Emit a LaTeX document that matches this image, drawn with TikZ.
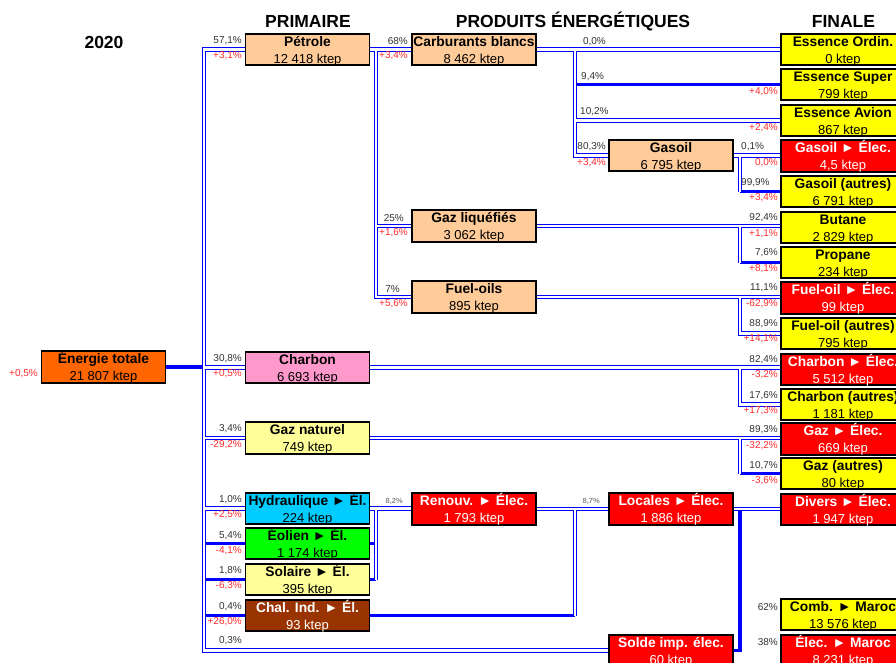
\documentclass[tikz,border=0pt]{standalone}
\usepackage{fontspec}
\setmainfont{Liberation Sans}
\usetikzlibrary{backgrounds}
\definecolor{corange}{HTML}{FF6600}
\definecolor{cpeach}{HTML}{FFCC99}
\definecolor{cpink}{HTML}{FF99CC}
\definecolor{clyel}{HTML}{FFFF99}
\definecolor{ccyan}{HTML}{00CCFF}
\definecolor{cgreen}{HTML}{00FF00}
\definecolor{cbrown}{HTML}{993300}
\definecolor{cred}{HTML}{FF0000}
\definecolor{cyel}{HTML}{FFFF00}
\definecolor{cblue}{HTML}{0000FF}
\definecolor{txtgray}{HTML}{333333}
\definecolor{txtred}{HTML}{FF2A2A}
\definecolor{txtlight}{HTML}{8A8A8A}
\newcommand{\bx}[2]{\rule{0pt}{12.5pt}\smash{\fontsize{13.8}{17}\selectfont\bfseries #1}\\\smash{\fontsize{13}{17}\selectfont #2}\rule[-2pt]{0pt}{2pt}}
\begin{document}
\begin{tikzpicture}[x=1pt,y=-1pt,
  box/.style={draw=black, line width=1.6pt, minimum width=124pt, minimum height=31.5pt,
    inner sep=0pt, align=center, font=\fontsize{13}{17}\selectfont},
  wbox/.style={box, text=white},
  pipe/.style={draw=cblue, line width=1pt, double=white, double distance=2.2pt},
  tpipe/.style={draw=cblue, line width=3.6pt},
  pg/.style={font=\fontsize{10}{10}\selectfont, text=txtgray, inner sep=0pt},
  pr/.style={pg, text=txtred},
  tiny/.style={font=\fontsize{7.5}{7.5}\selectfont\bfseries, text=txtlight, inner sep=0pt},
  head/.style={font=\fontsize{17.5}{17.5}\selectfont\bfseries, inner sep=0pt}]
\useasboundingbox (0,0) rectangle (896,662);
\clip (0,0) rectangle (896,662);

% headings
\node[head] (h0) at (104,42) {2020};
\node[head] (h1) at (308,21) {PRIMAIRE};
\node[head] (h2) at (573,21) {PRODUITS ÉNERGÉTIQUES};
\node[head] (h3) at (843.5,21) {FINALE};

% column 1
\node[box, fill=corange] (et) at (103.5,367) {\bx{Énergie totale}{21 807 ktep}};

% column 2
\node[box, fill=cpeach] (pet) at (307.5,49.5) {\bx{Pétrole}{12 418 ktep}};
\node[box, fill=cpink] (cha) at (307.5,367.5) {\bx{Charbon}{6 693 ktep}};
\node[box, fill=clyel] (gzn) at (307.5,438) {\bx{Gaz naturel}{749 ktep}};
\node[box, fill=ccyan] (hyd) at (307.5,508.5) {\bx{Hydraulique ► Él.}{224 ktep}};
\node[box, fill=cgreen] (eol) at (307.5,543.5) {\bx{Éolien ► Él.}{1 174 ktep}};
\node[box, fill=clyel] (sol) at (307.5,579.5) {\bx{Solaire ► Él.}{395 ktep}};
\node[wbox, fill=cbrown] (chi) at (307.5,615.5) {\bx{Chal. Ind. ► Él.}{93 ktep}};

% column 3
\node[box, fill=cpeach] (car) at (474,49.5) {\bx{Carburants blancs}{8 462 ktep}};
\node[box, fill=cpeach] (gl) at (474,226) {\bx{Gaz liquéfiés}{3 062 ktep}};
\node[box, fill=cpeach] (fo) at (474,297) {\bx{Fuel-oils}{895 ktep}};
\node[wbox, fill=cred] (ren) at (474,509) {\bx{Renouv. ► Élec.}{1 793 ktep}};

% column 3.5
\node[box, fill=cpeach] (gas) at (671,155.5) {\bx{Gasoil}{6 795 ktep}};
\node[wbox, fill=cred] (loc) at (671,509) {\bx{Locales ► Élec.}{1 886 ktep}};
\node[wbox, fill=cred] (sld) at (671,650.5) {\bx{Solde imp. élec.}{60 ktep}};

% column 4 (finale)
\node[box, fill=cyel] (eo) at (843,49.5) {\bx{Essence Ordin.}{0 ktep}};
\node[box, fill=cyel] (es) at (843,84.5) {\bx{Essence Super}{799 ktep}};
\node[box, fill=cyel] (ea) at (843,120.5) {\bx{Essence Avion}{867 ktep}};
\node[wbox, fill=cred] (ge) at (843,156) {\bx{Gasoil ► Élec.}{4,5 ktep}};
\node[box, fill=cyel] (ga) at (843,191.5) {\bx{Gasoil (autres)}{6 791 ktep}};
\node[box, fill=cyel] (but) at (843,227.5) {\bx{Butane}{2 829 ktep}};
\node[box, fill=cyel] (pro) at (843,262.5) {\bx{Propane}{234 ktep}};
\node[wbox, fill=cred] (fe) at (843,298) {\bx{Fuel-oil ► Élec.}{99 ktep}};
\node[box, fill=cyel] (fa) at (843,333.5) {\bx{Fuel-oil (autres)}{795 ktep}};
\node[wbox, fill=cred] (ce) at (843,369.5) {\bx{Charbon ► Élec.}{5 512 ktep}};
\node[box, fill=cyel] (cau) at (843,404.5) {\bx{Charbon (autres)}{1 181 ktep}};
\node[wbox, fill=cred] (gze) at (843,439) {\bx{Gaz ► Élec.}{669 ktep}};
\node[box, fill=cyel] (gza) at (843,473.5) {\bx{Gaz (autres)}{80 ktep}};
\node[wbox, fill=cred] (div) at (843,509.5) {\bx{Divers ► Élec.}{1 947 ktep}};
\node[box, fill=cyel] (cm) at (843,614.5) {\bx{Comb. ► Maroc}{13 576 ktep}};
\node[wbox, fill=cred] (em) at (843,650.5) {\bx{Élec. ► Maroc}{8 231 ktep}};

% trunk x positions
\coordinate (A) at (204,0);
\coordinate (B) at (376,0);
\coordinate (C) at (575,0);
\coordinate (D) at (740,0);

\begin{scope}[on background layer]
  % thick solid pipes
  \draw[tpipe] (et.east) -- (et.east -| A);
  \draw[tpipe] (eol.west) -- (eol.west -| A);
  \draw[tpipe] (sol.west) -- (sol.west -| A);
  \draw[tpipe] (chi.west) -- (chi.west -| A);
  \draw[tpipe] (es.west) -- (es.west -| C);
  \draw[tpipe] (ga.west) -- (ga.west -| D);
  \draw[tpipe] (pro.west) -- (pro.west -| D);
  \draw[tpipe] (gza.west) -- (gza.west -| D);
  \draw[tpipe] (eol.east) -- (eol.east -| B);
  \draw[tpipe] (sol.east) -- (sol.east -| B);
  \draw[tpipe] (chi.east) -- (chi.east -| C);
  \draw[tpipe] (loc.east -| D) -- (sld.east -| D) -- (sld.east);
  % double pipes
  \draw[pipe]
    (pet.west) -- (pet.west -| A) -- (sld.west -| A) -- (sld.west)
    (cha.west -| A) -- (cha.west)
    (gzn.west -| A) -- (gzn.west)
    (hyd.west -| A) -- (hyd.west)
    (pet.east) -- (car.west)
    (pet.east -| B) -- (fo.west -| B) -- (fo.west)
    (gl.west -| B) -- (gl.west)
    (car.east) -- (eo.west)
    (car.east -| C) -- (gas.west -| C) -- (gas.west)
    (ea.west -| C) -- (ea.west)
    (gas.east) -- (gas.east -| ge.west)
    (gas.east -| D) -- (ga.west -| D)
    (gl.east) -- (gl.east -| but.west)
    (gl.east -| D) -- (pro.west -| D)
    (fo.east) -- (fo.east -| fe.west)
    (fo.east -| D) -- (fa.west -| D) -- (fa.west)
    (cha.east) -- (cha.east -| ce.west)
    (cha.east -| D) -- (cau.west -| D) -- (cau.west)
    (gzn.east) -- (gzn.east -| gze.west)
    (gzn.east -| D) -- (gza.west -| D)
    (hyd.east) -- (hyd.east -| ren.west)
    (hyd.east -| B) -- (sol.east -| B)
    (ren.east) -- (ren.east -| loc.west)
    (ren.east -| C) -- (chi.east -| C)
    (loc.east) -- (loc.east -| div.west);
\end{scope}

% labels column 1/2
\node[pr, anchor=east] (l0) at (38,374) {+0,5\%};
\node[pg, anchor=east] (l1) at (242,41) {57,1\%};
\node[pr, anchor=east] (l2) at (242,56) {+3,1\%};
\node[pg, anchor=east] (l3) at (242,359) {30,8\%};
\node[pr, anchor=east] (l4) at (242,374) {+0,5\%};
\node[pg, anchor=east] (l5) at (242,429) {3,4\%};
\node[pr, anchor=east] (l6) at (242,445) {-29,2\%};
\node[pg, anchor=east] (l7) at (242,500) {1,0\%};
\node[pr, anchor=east] (l8) at (242,515) {+2,5\%};
\node[pg, anchor=east] (l9) at (242,536) {5,4\%};
\node[pr, anchor=east] (l10) at (242,551) {-4,1\%};
\node[pg, anchor=east] (l11) at (242,571) {1,8\%};
\node[pr, anchor=east] (l12) at (242,586) {-6,3\%};
\node[pg, anchor=east] (l13) at (242,607) {0,4\%};
\node[pr, anchor=east] (l14) at (242,622) {+26,0\%};
\node[pg, anchor=east] (l15) at (242,641) {0,3\%};

% labels column 3
\node[pg, anchor=east] (l16) at (408,41) {68\%};
\node[pr, anchor=east] (l17) at (408,56) {+3,4\%};
\node[pg, anchor=east] (l18) at (404,218) {25\%};
\node[pr, anchor=east] (l19) at (408,233) {+1,6\%};
\node[pg, anchor=east] (l20) at (400,289) {7\%};
\node[pr, anchor=east] (l21) at (408,304) {+5,6\%};
\node[tiny, anchor=east] (l22) at (403,501) {8,2\%};
\node[tiny, anchor=east] (l23) at (600,501) {8,7\%};

% labels column 3.5
\node[pg, anchor=east] (l24) at (606,42) {0,0\%};
\node[pg, anchor=west] (l25) at (581,77) {9,4\%};
\node[pg, anchor=west] (l26) at (580,112) {10,2\%};
\node[pg, anchor=east] (l27) at (606,147) {80,3\%};
\node[pr, anchor=east] (l28) at (606,163) {+3,4\%};

% labels finale
\node[pr, anchor=east] (l29) at (778,92) {+4,0\%};
\node[pr, anchor=east] (l30) at (778,128) {+2,4\%};
\node[pg, anchor=west] (l31) at (741,147) {0,1\%};
\node[pr, anchor=east] (l32) at (778,163) {0,0\%};
\node[pg, anchor=west] (l33) at (741,183) {99,9\%};
\node[pr, anchor=east] (l34) at (778,198) {+3,4\%};
\node[pg, anchor=east] (l35) at (778,218) {92,4\%};
\node[pr, anchor=east] (l36) at (778,234) {+1,1\%};
\node[pg, anchor=east] (l37) at (778,253) {7,6\%};
\node[pr, anchor=east] (l38) at (778,269) {+8,1\%};
\node[pg, anchor=east] (l39) at (778,288) {11,1\%};
\node[pr, anchor=east] (l40) at (778,304) {-62,9\%};
\node[pg, anchor=east] (l41) at (778,324) {88,9\%};
\node[pr, anchor=east] (l42) at (778,339) {+14,1\%};
\node[pg, anchor=east] (l43) at (778,360) {82,4\%};
\node[pr, anchor=east] (l44) at (778,375) {-3,2\%};
\node[pg, anchor=east] (l45) at (778,396) {17,6\%};
\node[pr, anchor=east] (l46) at (778,411) {+17,3\%};
\node[pg, anchor=east] (l47) at (778,430) {89,3\%};
\node[pr, anchor=east] (l48) at (778,446) {-32,2\%};
\node[pg, anchor=east] (l49) at (778,466) {10,7\%};
\node[pr, anchor=east] (l50) at (778,481) {-3,6\%};
\node[pg, anchor=east] (l51) at (778,607) {62\%};
\node[pg, anchor=east] (l52) at (778,642) {38\%};
\end{tikzpicture}
\end{document}
